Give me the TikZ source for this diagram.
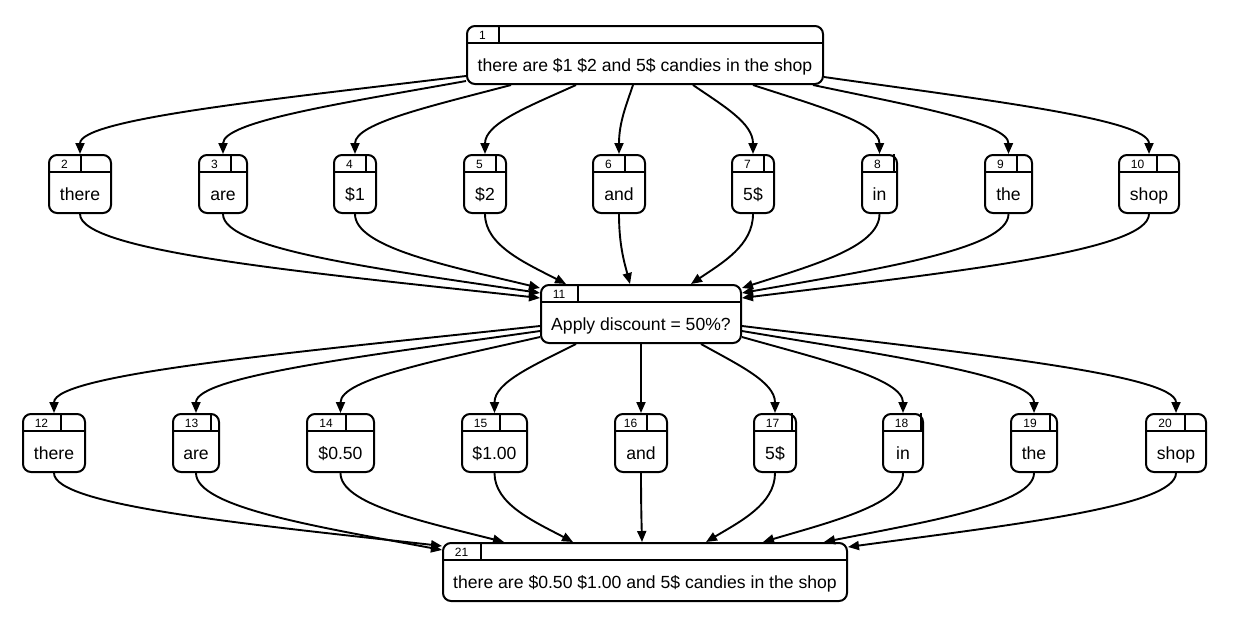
\documentclass[tikz,border=0pt]{standalone}
\usepackage{fontspec}
\setmainfont{Liberation Sans}
\usetikzlibrary{arrows.meta,calc}
\tikzset{
  gbox/.style={draw, line width=2pt, rounded corners=8pt, minimum height=58pt, inner sep=0pt, fill=white},
  hline/.style={line width=2pt},
  numlab/.style={font=\fontsize{12}{14}\selectfont, inner sep=0pt, anchor=base},
  bodytxt/.style={font=\fontsize{17.6}{20}\selectfont, inner sep=0pt, anchor=base},
  edge/.style={line width=1.9pt, -{Triangle[length=11pt,width=9pt]}},
}
% #1 name, #2 left, #3 top, #4 width, #5 number, #6 text, #7 header cell width
\newcommand\gbox[7]{%
  \node[gbox, minimum width=#4pt, anchor=north west] (#1) at (#2,#3) {};
  \draw[hline] ([yshift=-17.5pt]#1.north west) -- ([yshift=-17.5pt]#1.north east);
  \draw[hline] ([xshift=#7pt]#1.north west) -- ([xshift=#7pt,yshift=-17.5pt]#1.north west);
  \node[numlab] (#1num) at ([xshift={#7*0.5pt},yshift=-14pt]#1.north west) {#5};
  \node[bodytxt] (#1txt) at ([yshift=-46pt]#1.north) {#6};
}
\newcommand\fanout[2]{\draw[edge] let \p1=(#1), \p2=(#2) in (\p1) .. controls ({0.5*\x1+0.5*\x2},{0.7*\y1+0.3*\y2}) and (\x2,{0.45*\y1+0.55*\y2}) .. (\p2);}
\newcommand\fanin[2]{\draw[edge] let \p1=(#1), \p2=(#2) in (\p1) .. controls (\x1,{0.55*\y1+0.45*\y2}) and ({0.5*\x1+0.5*\x2},{0.3*\y1+0.7*\y2}) .. (\p2);}
\begin{document}
\begin{tikzpicture}[x=1pt,y=-1pt]
\useasboundingbox (0,0) rectangle (1260,629);
\gbox{n1}{466}{25}{356}{1}{there are \$1 \$2 and 5\$ candies in the shop}{33}
\gbox{n2}{48}{154}{62}{2}{there}{33}
\gbox{n3}{198}{154}{48}{3}{are}{33}
\gbox{n4}{333}{154}{42}{4}{\$1}{33}
\gbox{n5}{463}{154}{42}{5}{\$2}{33}
\gbox{n6}{592}{154}{52}{6}{and}{33}
\gbox{n7}{731}{154}{42}{7}{5\$}{33}
\gbox{n8}{861}{154}{35}{8}{in}{33}
\gbox{n9}{984}{154}{47}{9}{the}{33}
\gbox{n10}{1118}{154}{60}{10}{shop}{39}
\gbox{n11}{540}{284}{200}{11}{Apply discount = 50\%?}{38}
\gbox{n12}{22}{413}{62}{12}{there}{39}
\gbox{n13}{172}{413}{46}{13}{are}{39}
\gbox{n14}{306}{413}{67}{14}{\$0.50}{40}
\gbox{n15}{461}{413}{65}{15}{\$1.00}{39}
\gbox{n16}{614}{413}{52}{16}{and}{33}
\gbox{n17}{753}{413}{42}{17}{5\$}{39}
\gbox{n18}{882}{413}{40}{18}{in}{39}
\gbox{n19}{1010}{413}{46}{19}{the}{40}
\gbox{n20}{1145}{413}{60}{20}{shop}{40}
\gbox{n21}{442}{542}{404}{21}{there are \$0.50 \$1.00 and 5\$ candies in the shop}{39}
% 1 -> row 2
\fanout{[yshift=-21pt]n1.west}{n2.north}
\fanout{[yshift=-26pt]n1.west}{n3.north}
\fanout{[xshift=-134pt]n1.south}{n4.north}
\fanout{[xshift=-69pt]n1.south}{n5.north}
\fanout{[xshift=-12pt]n1.south}{n6.north}
\fanout{[xshift=48pt]n1.south}{n7.north}
\fanout{[xshift=108pt]n1.south}{n8.north}
\fanout{[xshift=168pt]n1.south}{n9.north}
\fanout{[yshift=-22pt]n1.east}{n10.north}
% row 2 -> 11
\fanin{n2.south}{[yshift=-14pt]n11.north west}
\fanin{n3.south}{[yshift=-9pt]n11.north west}
\fanin{n4.south}{[yshift=-4pt]n11.north west}
\fanin{n5.south}{[xshift=-75pt]n11.north}
\fanin{n6.south}{[xshift=-11pt]n11.north}
\fanin{n7.south}{[xshift=50pt]n11.north}
\fanin{n8.south}{[yshift=-4pt]n11.north east}
\fanin{n9.south}{[yshift=-9pt]n11.north east}
\fanin{n10.south}{[yshift=-14pt]n11.north east}
% 11 -> row 4
\fanout{[yshift=-12pt]n11.west}{n12.north}
\fanout{[yshift=-17pt]n11.west}{n13.north}
\fanout{[yshift=-23pt]n11.west}{n14.north}
\fanout{[xshift=-65pt]n11.south}{n15.north}
\fanout{n11.south}{n16.north}
\fanout{[xshift=60pt]n11.south}{n17.north}
\fanout{[yshift=-23pt]n11.east}{n18.north}
\fanout{[yshift=-17pt]n11.east}{n19.north}
\fanout{[yshift=-12pt]n11.east}{n20.north}
% row 4 -> 21
\fanin{n12.south}{[yshift=-4pt]n21.north west}
\fanin{n13.south}{[yshift=-8pt]n21.north west}
\fanin{n14.south}{[xshift=-141pt]n21.north}
\fanin{n15.south}{[xshift=-72pt]n21.north}
\fanin{n16.south}{[xshift=-3pt]n21.north}
\fanin{n17.south}{[xshift=61pt]n21.north}
\fanin{n18.south}{[xshift=118pt]n21.north}
\fanin{n19.south}{[xshift=179pt]n21.north}
\fanin{n20.south}{[yshift=-5pt]n21.north east}
\end{tikzpicture}
\end{document}
